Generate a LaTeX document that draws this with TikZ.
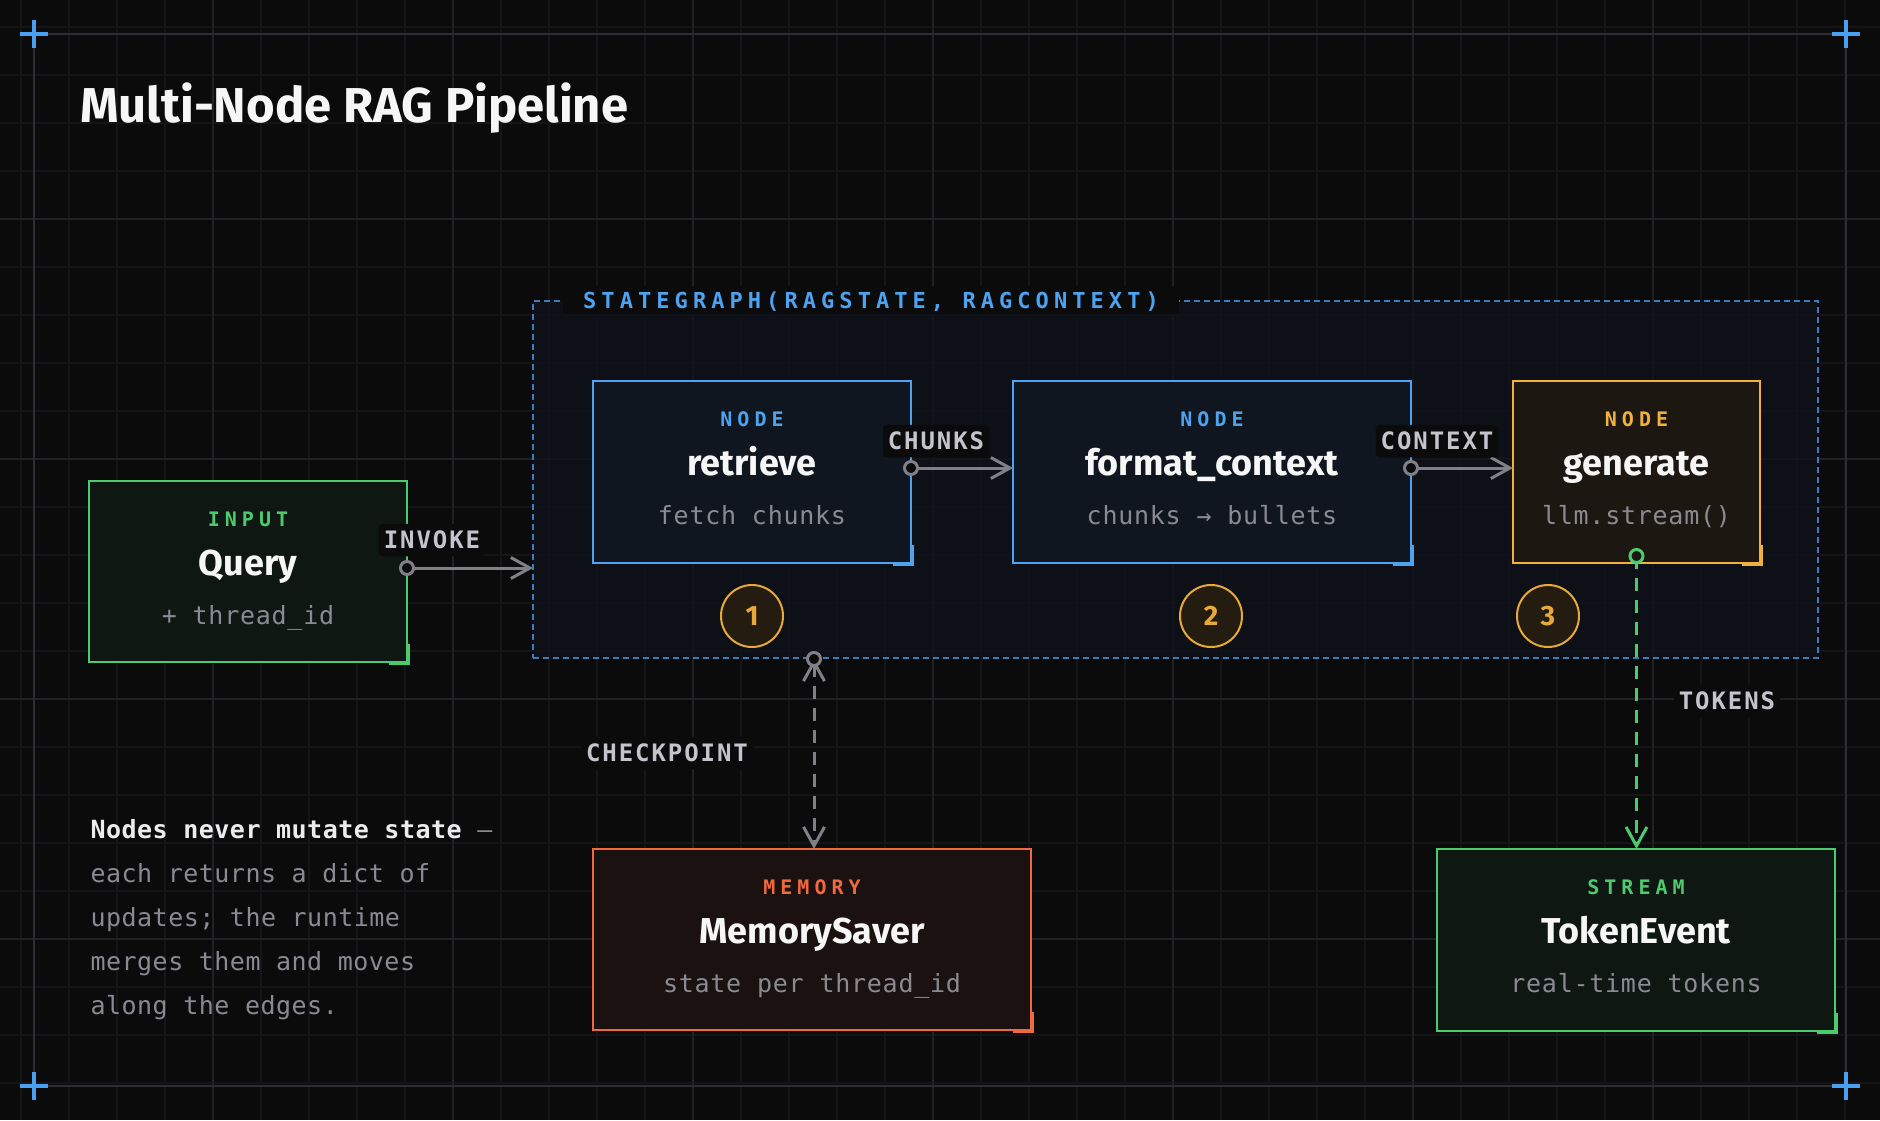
\documentclass[tikz,border=0pt]{standalone}
\usepackage{fontspec}
\setmainfont{Fira Sans}
\newfontfamily\tagfont[LetterSpace=25]{DejaVu Sans Mono}
\newfontfamily\statefont[LetterSpace=23]{DejaVu Sans Mono}
\newfontfamily\edgefont[LetterSpace=8]{DejaVu Sans Mono}
\newfontfamily\subfont[LetterSpace=3]{DejaVu Sans Mono}
\newfontfamily\notefont[LetterSpace=2]{DejaVu Sans Mono}
\usetikzlibrary{arrows.meta,calc}
\definecolor{bg}{HTML}{0B0B0C}
\definecolor{gridminor}{HTML}{151518}
\definecolor{gridmajor}{HTML}{222226}
\definecolor{framec}{HTML}{2D2D33}
\definecolor{plusblue}{HTML}{4A9FF0}
\definecolor{cblue}{HTML}{4DA3F0}
\definecolor{dashblue}{HTML}{3D7DBF}
\definecolor{bluefill}{HTML}{0F161F}
\definecolor{sgfill}{HTML}{0E1219}
\definecolor{cgreen}{HTML}{4CCB6E}
\definecolor{greenfill}{HTML}{0F1713}
\definecolor{corange}{HTML}{F0B23C}
\definecolor{orangefill}{HTML}{1C1710}
\definecolor{cred}{HTML}{F0693A}
\definecolor{redfill}{HTML}{1A1110}
\definecolor{numfill}{HTML}{241C11}
\definecolor{numstroke}{HTML}{E6A93A}
\definecolor{subgrey}{HTML}{8A8A92}
\definecolor{labelgrey}{HTML}{C4C4CC}
\definecolor{conngrey}{HTML}{808086}
\definecolor{titlewhite}{HTML}{F6F6F6}
\definecolor{notewhite}{HTML}{ECECEE}
\tikzset{
  gridline/.style={draw=gridminor, line width=1.5pt},
  majorline/.style={draw=gridmajor, line width=2pt},
  plusmark/.style={draw=plusblue, line width=3.5pt},
  box/.style={draw, line width=2pt, anchor=north west, inner sep=0pt, outer sep=0pt},
  tagtxt/.style={font=\tagfont\bfseries\fontsize{20}{20}\selectfont, anchor=base},
  titletxt/.style={font=\bfseries\fontsize{36}{36}\selectfont, text=titlewhite, anchor=base},
  subtxt/.style={font=\subfont\fontsize{25}{25}\selectfont, text=subgrey, anchor=base},
  elabel/.style={font=\edgefont\bfseries\fontsize{24}{24}\selectfont, text=labelgrey, fill=bg,
    rounded corners=4pt, text height=17.5pt, text depth=0pt, inner xsep=5pt, inner ysep=7.5pt},
  chevron/.tip={Straight Barb[length=19pt,width=21pt]},
  conn/.style={draw=conngrey, line width=3pt},
  startdot/.style={draw, line width=3pt, fill=bg},
  numc/.style={circle, draw=numstroke, line width=2pt, fill=numfill, minimum size=62pt,
    inner sep=0pt, font=\bfseries\fontsize{28}{28}\selectfont, text=numstroke},
  notetxt/.style={font=\notefont\fontsize{25}{25}\selectfont, text=subgrey, anchor=base west},
  cornermark/.style={line width=3pt}
}
\newcommand\boxcorner[2]{\draw[cornermark,#2] ([shift={(1.5,-18)}]#1.south east) -- ([shift={(1.5,1.5)}]#1.south east) -- ([shift={(-18,1.5)}]#1.south east);}
\begin{document}
\begin{tikzpicture}[x=1pt,y=-1pt]
\fill[bg] (0,0) rectangle (1880,1120);
\useasboundingbox (0,0) rectangle (1880,1120);
% grid
\foreach \k in {0,...,38} \draw[gridline] ({21+48*\k},0) -- ({21+48*\k},1120);
\foreach \k in {0,...,22} \draw[gridline] (0,{27+48*\k}) -- (1880,{27+48*\k});
\foreach \xx in {213,453,693,933,1173,1413,1653} \draw[majorline] (\xx,0) -- (\xx,1120);
\foreach \yy in {219,459,699,939} \draw[majorline] (0,\yy) -- (1880,\yy);
% frame and corner marks
\draw[draw=framec, line width=2pt] (34,34) rectangle (1846,1086);
\foreach \cx/\cy in {34/34,1846/34,34/1086,1846/1086}
  \draw[plusmark] (\cx-14,\cy) -- (\cx+14,\cy) (\cx,\cy-14) -- (\cx,\cy+14);
% title
\node[anchor=base west, inner sep=0pt, text=titlewhite, font=\bfseries\fontsize{49}{49}\selectfont] (title) at (80,122) {Multi-Node RAG Pipeline};
% container
\node[box, draw=dashblue, fill=sgfill, fill opacity=0.8, dash pattern=on 6pt off 4pt,
  minimum width=1285pt, minimum height=357pt] (sg) at (533,301) {};
\node[anchor=west, fill=bg, inner xsep=20pt, text height=16pt, text depth=0pt, inner ysep=6pt,
  text=cblue, font=\statefont\bfseries\fontsize{22}{22}\selectfont] (sglabel) at (563,300) {STATEGRAPH(RAGSTATE, RAGCONTEXT)};
% nodes
\node[box, draw=cgreen, fill=greenfill, minimum width=318pt, minimum height=181pt] (query) at (89,481) {};
\node[box, draw=cblue, fill=bluefill, minimum width=318pt, minimum height=182pt] (retrieve) at (593,381) {};
\node[box, draw=cblue, fill=bluefill, minimum width=398pt, minimum height=182pt] (format) at (1013,381) {};
\node[box, draw=corange, fill=orangefill, minimum width=247pt, minimum height=182pt] (generate) at (1513,381) {};
\node[box, draw=cred, fill=redfill, minimum width=438pt, minimum height=181pt] (mem) at (593,849) {};
\node[box, draw=cgreen, fill=greenfill, minimum width=398pt, minimum height=182pt] (token) at (1437,849) {};
\boxcorner{query}{cgreen}
\boxcorner{retrieve}{cblue}
\boxcorner{format}{cblue}
\boxcorner{generate}{corange}
\boxcorner{mem}{cred}
\boxcorner{token}{cgreen}
% node texts
\node[tagtxt, text=cgreen] (queryTag) at ($(query.north)+(0,45)$) {INPUT};
\node[titletxt] (queryTitle) at ($(query.north)+(0,94)$) {Query};
\node[subtxt] (querySub) at ($(query.north)+(0,143)$) {+ thread\_id};
\node[tagtxt, text=cblue] (retrieveTag) at ($(retrieve.north)+(0,45)$) {NODE};
\node[titletxt] (retrieveTitle) at ($(retrieve.north)+(0,94)$) {retrieve};
\node[subtxt] (retrieveSub) at ($(retrieve.north)+(0,143)$) {fetch chunks};
\node[tagtxt, text=cblue] (formatTag) at ($(format.north)+(0,45)$) {NODE};
\node[titletxt] (formatTitle) at ($(format.north)+(0,94)$) {format\_context};
\node[subtxt] (formatSub) at ($(format.north)+(0,143)$) {chunks → bullets};
\node[tagtxt, text=corange] (generateTag) at ($(generate.north)+(0,45)$) {NODE};
\node[titletxt] (generateTitle) at ($(generate.north)+(0,94)$) {generate};
\node[subtxt] (generateSub) at ($(generate.north)+(0,143)$) {llm.stream()};
\node[tagtxt, text=cred] (memTag) at ($(mem.north)+(0,45)$) {MEMORY};
\node[titletxt] (memTitle) at ($(mem.north)+(0,94)$) {MemorySaver};
\node[subtxt] (memSub) at ($(mem.north)+(0,143)$) {state per thread\_id};
\node[tagtxt, text=cgreen] (tokenTag) at ($(token.north)+(0,45)$) {STREAM};
\node[titletxt] (tokenTitle) at ($(token.north)+(0,94)$) {TokenEvent};
\node[subtxt] (tokenSub) at ($(token.north)+(0,143)$) {real-time tokens};
% numbers
\node[numc] (n1) at (752,616) {1};
\node[numc] (n2) at (1211,616) {2};
\node[numc] (n3) at (1548,616) {3};
% connectors
\coordinate (invS) at ([yshift=3.5pt]query.east);
\coordinate (chS) at ([yshift=4pt]retrieve.east);
\coordinate (ctS) at ([yshift=4pt]format.east);
\draw[conn, -chevron] (invS) -- (invS -| sg.west);
\draw[conn, -chevron] (chS) -- (chS -| format.west);
\draw[conn, -chevron] (ctS) -- (ctS -| generate.west);
\draw[startdot, draw=conngrey] (invS) circle (6.5);
\draw[startdot, draw=conngrey] (chS) circle (6.5);
\draw[startdot, draw=conngrey] (ctS) circle (6.5);
\node[elabel] (invLabel) at ($(invS)+(25,-28)$) {INVOKE};
\node[elabel] (chLabel) at ($(chS)+(25,-27)$) {CHUNKS};
\node[elabel] (ctLabel) at ($(ctS)+(26,-27)$) {CONTEXT};
% checkpoint
\coordinate (cpS) at ($(mem.north |- sg.south)+(2,1)$);
\draw[conn, chevron-chevron, dash pattern=on 13pt off 9pt] (cpS) -- (cpS |- mem.north);
\draw[startdot, draw=conngrey] (cpS) circle (6.5);
\node[elabel, fill=bg] (cpLabel) at (667,753) {CHECKPOINT};
% tokens
\coordinate (tkS) at ([yshift=7pt]generate.south);
\draw[draw=cgreen, line width=3pt, -chevron, dash pattern=on 13pt off 9pt] (tkS) -- (tkS |- token.north);
\draw[startdot, draw=cgreen, fill=orangefill] (tkS) circle (6.5);
\node[elabel] (tkLabel) at (1727,701) {TOKENS};
% note
\node[notetxt] (note1) at (87,838) {\textcolor{notewhite}{\bfseries Nodes never mutate state} —};
\node[notetxt] (note2) at (87,882) {each returns a dict of};
\node[notetxt] (note3) at (87,926) {updates; the runtime};
\node[notetxt] (note4) at (87,970) {merges them and moves};
\node[notetxt] (note5) at (87,1014) {along the edges.};
\end{tikzpicture}
\end{document}
